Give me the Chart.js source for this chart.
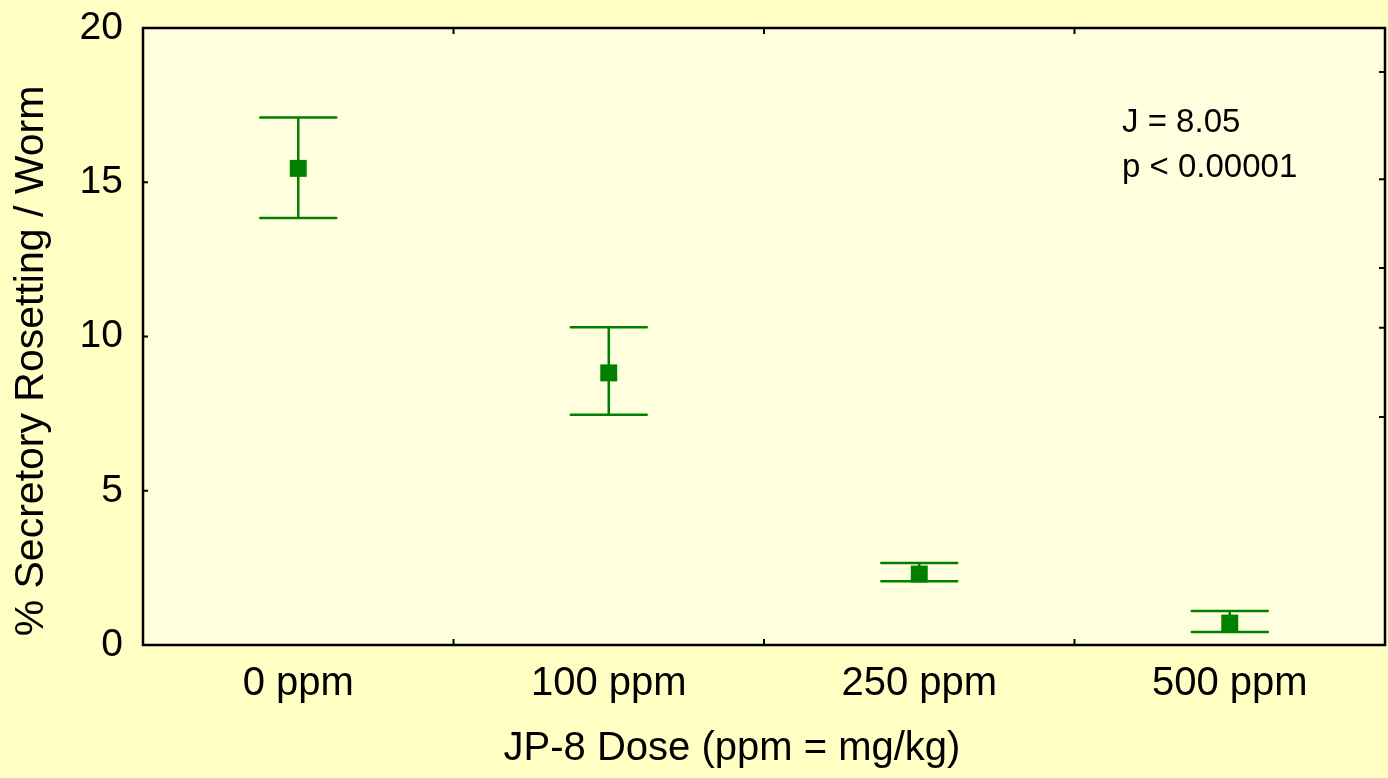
<!DOCTYPE html>
<html>
<head>
<meta charset="utf-8">
<title>JP-8 dose vs secretory rosetting</title>
<script src="https://cdn.jsdelivr.net/npm/chart.js@4.4.1/dist/chart.umd.min.js"></script>
<style>
    html, body { margin: 0; padding: 0; background: #ffffc4; }
    canvas { display: block; }
</style>
</head>
<body>
<canvas id="chart" width="1388" height="778"></canvas>
<script>
// values
const doses      = ["0 ppm", "100 ppm", "250 ppm", "500 ppm"];
const means      = [15.45, 8.82, 2.30, 0.71];
const upper      = [17.10, 10.30, 2.66, 1.10];
const lower      = [13.84, 7.46, 2.07, 0.42];
const yTicks     = [0, 5, 10, 15, 20];
const rightTicks = [18.57, 15.1, 12.22, 10.28, 7.39];
const notes      = ["J = 8.05", "p < 0.00001"];

const xTitle = "JP-8 Dose (ppm = mg/kg)";
const yTitle = "% Secretory Rosetting / Worm";

const GREEN = "#008000";
const FONT  = "'Liberation Sans', Arial, sans-serif";


// plot background, frame, inward ticks, error bars and text
const decor = {
    id: "decor",
    beforeDraw(chart)
    {
        let ctx = chart.ctx, a = chart.chartArea;
        ctx.save();
        ctx.fillStyle = "#ffffc4";
        ctx.fillRect(0, 0, chart.width, chart.height);
        ctx.fillStyle = "#ffffde";
        ctx.fillRect(a.left, a.top, a.right - a.left, a.bottom - a.top);
        ctx.restore();
    },
    beforeDatasetsDraw(chart)
    {
        // whiskers
        let ctx = chart.ctx, x = chart.scales.x, y = chart.scales.y;
        ctx.save();
        ctx.strokeStyle = GREEN;
        ctx.lineWidth = 2.5;
        ctx.lineCap = "round";
        doses.forEach((d, i) => {
            let px = x.getPixelForValue(i);
            let yu = y.getPixelForValue(upper[i]);
            let yl = y.getPixelForValue(lower[i]);
            ctx.beginPath();
            ctx.moveTo(px, yu); ctx.lineTo(px, yl);
            ctx.moveTo(px - 38, yu); ctx.lineTo(px + 38, yu);
            ctx.moveTo(px - 38, yl); ctx.lineTo(px + 38, yl);
            ctx.stroke();
        });
        ctx.restore();
    },
    afterDraw(chart)
    {
        let ctx = chart.ctx, a = chart.chartArea;
        let x = chart.scales.x, y = chart.scales.y;
        ctx.save();
        ctx.strokeStyle = "#000";
        ctx.lineWidth = 2.5;
        ctx.strokeRect(a.left, a.top, a.right - a.left, a.bottom - a.top);

        // inward tick marks
        ctx.lineWidth = 2;
        ctx.beginPath();
        for(let i = 1; i < doses.length; ++i)
        {
            let px = x.getPixelForValue(i - 0.5);
            ctx.moveTo(px, a.bottom); ctx.lineTo(px, a.bottom - 6);
            ctx.moveTo(px, a.top);    ctx.lineTo(px, a.top + 6);
        }
        yTicks.forEach(v => {
            let py = y.getPixelForValue(v);
            ctx.moveTo(a.left, py); ctx.lineTo(a.left + 5, py);
        });
        rightTicks.forEach(v => {
            let py = y.getPixelForValue(v);
            ctx.moveTo(a.right, py); ctx.lineTo(a.right - 6, py);
        });
        ctx.stroke();

        // annotation
        ctx.fillStyle = "#000";
        ctx.font = "33px " + FONT;
        ctx.textAlign = "left";
        ctx.textBaseline = "alphabetic";
        notes.forEach((t, i) => ctx.fillText(t, a.right - 263, a.top + 104 + i * 45));

        // axis titles
        ctx.textAlign = "center";
        ctx.textBaseline = "middle";
        ctx.font = "40px " + FONT;
        ctx.fillText(xTitle, 732, 749);
        ctx.font = "41px " + FONT;
        ctx.translate(32, 361);
        ctx.rotate(-Math.PI / 2);
        ctx.fillText(yTitle, 0, 0);
        ctx.restore();
    }
};


document.addEventListener("DOMContentLoaded", e =>
{
    let context = document.getElementById("chart").getContext("2d");

    new Chart(context,
    {
        type: "line",
        data:
        {
            labels: doses,
            datasets:
            [{
                data: means,
                showLine: false,
                pointStyle: "rect",
                pointRadius: 12,
                pointBackgroundColor: GREEN,
                pointBorderWidth: 0,
                pointHoverRadius: 12
            }]
        },
        options:
        {
            responsive: false,
            animation: false,
            devicePixelRatio: 1,
            layout: { autoPadding: false, padding: { top: 28, right: 3, left: 0, bottom: 0 } },
            plugins:
            {
                legend: { display: false },
                tooltip: { enabled: false }
            },
            scales:
            {
                x:
                {
                    type: "category",
                    offset: true,
                    grid: { display: false },
                    border: { display: false },
                    ticks: { color: "#000", font: { family: FONT, size: 40 }, padding: 7, maxRotation: 0 },
                    afterFit: s => { s.height = 133; s.paddingLeft = 0; s.paddingRight = 0; }
                },
                y:
                {
                    min: 0,
                    max: 20,
                    grid: { display: false },
                    border: { display: false },
                    afterBuildTicks: s => { s.ticks = yTicks.map(v => ({ value: v })); },
                    ticks: { color: "#000", font: { family: FONT, size: 39 }, padding: 12 },
                    afterFit: s => { s.width = 143; s.paddingTop = 0; s.paddingBottom = 0; }
                }
            }
        },
        plugins: [decor]
    });
});
</script>
</body>
</html>
